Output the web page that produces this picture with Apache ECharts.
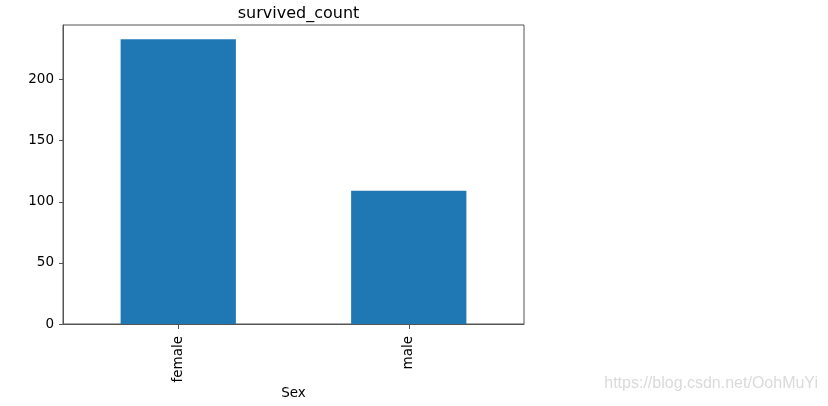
<!DOCTYPE html>
<html><head><meta charset="utf-8">
<script src="https://cdn.jsdelivr.net/npm/echarts@6/dist/echarts.min.js"></script>
<style>html,body{margin:0;padding:0;background:#fff}#c{width:828px;height:406px}</style>
</head><body><div id="c"></div>
<script>
const categories = ['female', 'male'];
const survivedCount = [233, 109];
const yTicks = [0, 50, 100, 150, 200];

const font = 'DejaVu Sans';
const chart = echarts.init(document.getElementById('c'));
chart.setOption({
  animation: false,
  title: {
    text: 'survived_count', left: 293.5, textAlign: 'center', top: 1,
    textStyle: {fontFamily: font, fontSize: 16, fontWeight: 'normal', color: '#000'}
  },
  grid: {left: 63, top: 25, width: 461, height: 299, show: true, borderColor: '#555', borderWidth: 1,
    containLabel: false, outerBoundsMode: 'none'},
  xAxis: {
    type: 'category', data: categories,
    name: 'Sex', nameLocation: 'middle', nameGap: 62, nameMoveOverlap: false,
    nameTextStyle: {fontFamily: font, fontSize: 13.5, color: '#000'},
    axisLine: {lineStyle: {color: '#555', width: 1}},
    axisTick: {show: true, alignWithLabel: true, length: 5, lineStyle: {color: '#555'}},
    axisLabel: {rotate: 90, margin: 12, fontFamily: font, fontSize: 13.5, color: '#000'},
    splitLine: {show: false}
  },
  yAxis: {
    type: 'value', min: 0, max: 244.65, interval: 50,
    axisLine: {show: true, lineStyle: {color: '#555', width: 1}},
    axisTick: {show: true, length: 4, lineStyle: {color: '#555'}},
    axisLabel: {margin: 9, fontFamily: font, fontSize: 13.5, color: '#000', showMaxLabel: false,
      formatter: v => yTicks.includes(v) ? String(v) : ''},
    splitLine: {show: false}
  },
  series: [{
    type: 'bar', data: survivedCount, barWidth: '50%',
    itemStyle: {color: '#1f77b4'}
  }],
  graphic: [{
    type: 'text', right: 10, top: 376,
    style: {text: 'https://blog.csdn.net/OohMuYi', fontFamily: 'Liberation Sans', fontSize: 16, fill: '#dadada'}
  }]
});
</script></body></html>
